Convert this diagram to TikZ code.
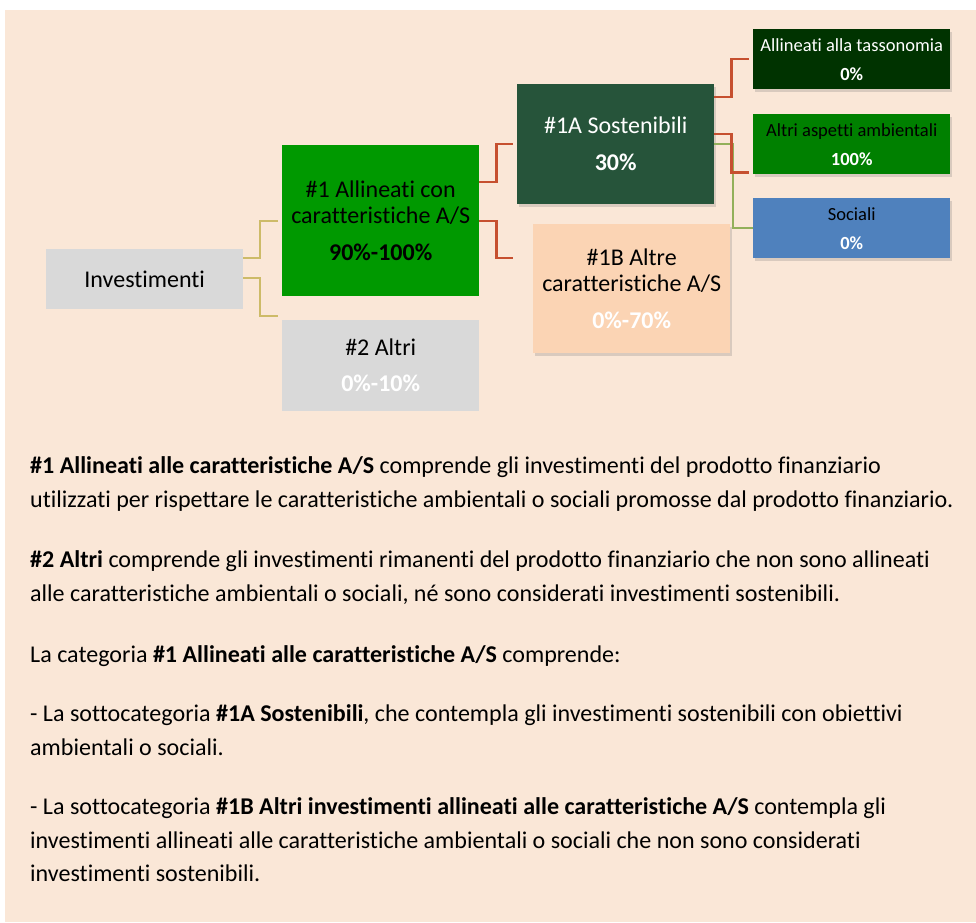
\documentclass[tikz,border=0pt]{standalone}
\usepackage{fontspec}
\setmainfont{Carlito}[Ligatures={NoCommon,NoDiscretionary}]
\usetikzlibrary{shadows}
\definecolor{bg}{HTML}{FAE7D7}
\definecolor{grayfill}{HTML}{D9D9D9}
\definecolor{greenA}{HTML}{009900}
\definecolor{darkgreen}{HTML}{26543A}
\definecolor{peachbox}{HTML}{FBD4B4}
\definecolor{verydark}{HTML}{003300}
\definecolor{midgreen}{HTML}{008000}
\definecolor{socblue}{HTML}{4F81BD}
\definecolor{olive}{HTML}{CDBB68}
\definecolor{redline}{HTML}{C6502F}
\definecolor{greenline}{HTML}{92B05A}
\begin{document}
\begin{tikzpicture}[x=1pt,y=-1pt,
  box/.style={draw=none, minimum width=197pt, inner sep=0pt, align=center, anchor=north west},
  bigtext/.style={font=\fontsize{24}{26}\selectfont},
  smalltext/.style={font=\fontsize{18.5}{29}\selectfont},
  shad/.style={drop shadow={shadow xshift=2pt, shadow yshift=-3pt, opacity=0.22, fill=black!60}},
  olivec/.style={draw=olive, line width=2pt},
  redc/.style={draw=redline, line width=2.2pt},
  greenc/.style={draw=greenline, line width=2pt},
  body/.style={anchor=base west, inner sep=0pt, font=\fontsize{24.05}{30}\selectfont}
]
\useasboundingbox (0,0) rectangle (976,922);
\fill[white] (0,0) rectangle (976,922);
\fill[bg] (5,10) rectangle (976,922);

% chart boxes
\node[box, bigtext, fill=grayfill, minimum height=60pt] (inv) at (46,249) {Investimenti};
\node[box, bigtext, fill=greenA, minimum height=151pt] (n1) at (282,145)
  {\#1 Allineati con\\caratteristiche A/S\\[11pt]\textbf{90\%-100\%}};
\node[box, bigtext, fill=grayfill, minimum height=91pt] (n2) at (282,320)
  {\#2 Altri\\[10pt]\textcolor{white}{\textbf{0\%-10\%}}};
\node[box, bigtext, fill=darkgreen, text=white, minimum height=120pt, shad] (n1a) at (517,84)
  {\#1A Sostenibili\\[11pt]\textbf{30\%}};
\node[box, bigtext, fill=peachbox, minimum height=129pt, shad] (n1b) at (533,224)
  {\#1B Altre\\caratteristiche A/S\\[11pt]\textcolor{white}{\textbf{0\%-70\%}}};
\node[box, smalltext, fill=verydark, text=white, minimum height=60pt, shad] (tax) at (753,29)
  {Allineati alla tassonomia\\\textbf{0\%}};
\node[box, smalltext, fill=midgreen, minimum height=60pt, shad] (amb) at (753,114)
  {Altri aspetti ambientali\\\textcolor{white}{\textbf{100\%}}};
\node[box, smalltext, fill=socblue, minimum height=60pt, shad] (soc) at (753,198)
  {Sociali\\\textcolor{white}{\textbf{0\%}}};

% connectors
\draw[olivec] ([yshift=21pt]inv.east) -- ++(17,0) |- ([xshift=-4pt]n1.west);
\draw[olivec] ([yshift=1pt]inv.east) -- ++(17,0) |- ([xshift=-4pt,yshift=4pt]n2.north west);
\draw[redc] ([yshift=39pt]n1.east) -- ++(17,0) |- ([xshift=-4pt]n1a.west);
\draw[redc] (n1.east) -- ++(17,0) |- ([xshift=-20pt,yshift=-34pt]n1b.north west);
\draw[redc] ([yshift=47pt]n1a.east) -- ++(17,0) |- ([xshift=-4pt]tax.west);
\draw[greenc] (n1a.east) -- ++(19,0) |- (soc.west);
\draw[redc] ([yshift=10pt]n1a.east) -- ++(17,0) |- ([xshift=-4pt,yshift=2pt]amb.south west);

% body text
\node[body] (t1) at (30,473) {\textbf{\#1 Allineati alle caratteristiche A/S} comprende gli investimenti del prodotto finanziario};
\node[body] (t2) at (30,507) {utilizzati per rispettare le caratteristiche ambientali o sociali promosse dal prodotto finanziario.};
\node[body] (t3) at (30,567) {\textbf{\#2 Altri} comprende gli investimenti rimanenti del prodotto finanziario che non sono allineati};
\node[body] (t4) at (30,601) {alle caratteristiche ambientali o sociali, né sono considerati investimenti sostenibili.};
\node[body] (t5) at (30,662) {La categoria \textbf{\#1 Allineati alle caratteristiche A/S} comprende:};
\node[body] (t6) at (30,721) {- La sottocategoria \textbf{\#1A Sostenibili}, che contempla gli investimenti sostenibili con obiettivi};
\node[body] (t7) at (30,755) {ambientali o sociali.};
\node[body] (t8) at (30,814) {- La sottocategoria \textbf{\#1B Altri investimenti allineati alle caratteristiche A/S} contempla gli};
\node[body] (t9) at (30,848) {investimenti allineati alle caratteristiche ambientali o sociali che non sono considerati};
\node[body] (t10) at (30,881) {investimenti sostenibili.};
\end{tikzpicture}
\end{document}
